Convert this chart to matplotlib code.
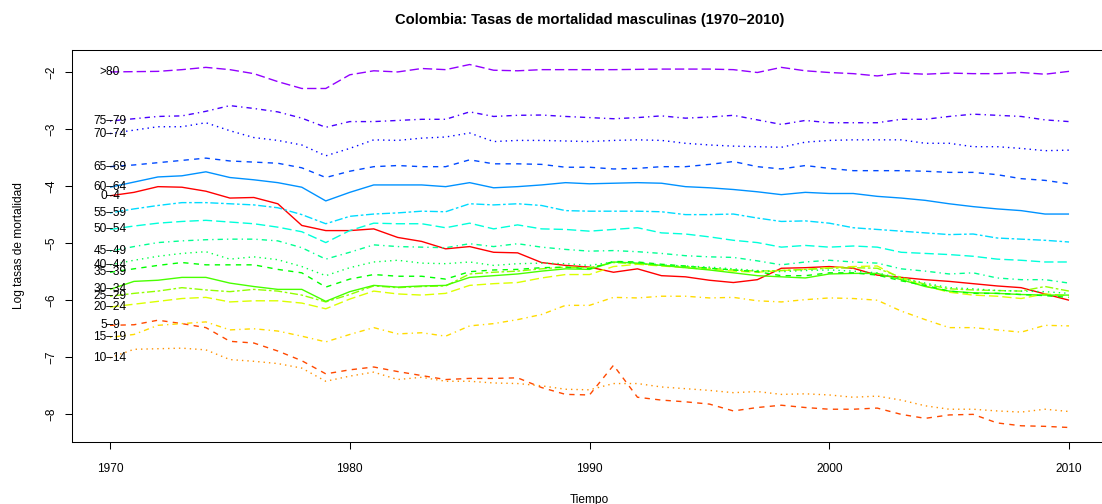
import colorsys

import matplotlib
matplotlib.use("Agg")
import matplotlib.pyplot as plt
import numpy as np

plt.rcParams["font.family"] = ["Liberation Sans", "DejaVu Sans"]

# --- DATA: log male mortality rates by age group, Colombia 1970-2010 ---
years = list(range(1970, 2011))

age_0_4 = [-4.17, -4.11, -4.01, -4.02, -4.09, -4.21, -4.20, -4.31, -4.69, -4.78,
           -4.78, -4.75, -4.90, -4.97, -5.10, -5.06, -5.16, -5.17, -5.34, -5.39,
           -5.42, -5.51, -5.45, -5.57, -5.59, -5.65, -5.69, -5.64, -5.44, -5.43,
           -5.41, -5.44, -5.56, -5.60, -5.64, -5.67, -5.71, -5.75, -5.78, -5.89,
           -6.00]
age_5_9 = [-6.44, -6.43, -6.35, -6.41, -6.48, -6.72, -6.75, -6.89, -7.06, -7.29,
           -7.22, -7.17, -7.25, -7.32, -7.39, -7.37, -7.37, -7.36, -7.53, -7.65,
           -7.66, -7.14, -7.70, -7.75, -7.78, -7.82, -7.94, -7.88, -7.84, -7.88,
           -7.91, -7.91, -7.89, -8.00, -8.07, -8.01, -8.00, -8.15, -8.20, -8.21,
           -8.23]
age_10_14 = [-7.01, -6.86, -6.85, -6.84, -6.87, -7.04, -7.07, -7.11, -7.19, -7.42,
             -7.33, -7.26, -7.39, -7.35, -7.42, -7.42, -7.45, -7.46, -7.50, -7.56,
             -7.57, -7.46, -7.46, -7.52, -7.55, -7.58, -7.62, -7.60, -7.65, -7.64,
             -7.66, -7.70, -7.68, -7.75, -7.85, -7.91, -7.91, -7.94, -7.96, -7.91,
             -7.95]
age_15_19 = [-6.65, -6.60, -6.44, -6.41, -6.38, -6.52, -6.50, -6.54, -6.63, -6.73,
             -6.60, -6.48, -6.59, -6.57, -6.63, -6.45, -6.41, -6.34, -6.25, -6.09,
             -6.09, -5.95, -5.96, -5.93, -5.93, -5.96, -5.95, -6.01, -6.03, -5.99,
             -5.96, -5.97, -6.00, -6.19, -6.34, -6.48, -6.48, -6.52, -6.56, -6.44,
             -6.45]
age_20_24 = [-6.12, -6.07, -6.02, -5.97, -5.95, -6.03, -6.01, -6.01, -6.05, -6.15,
             -5.98, -5.84, -5.89, -5.91, -5.88, -5.74, -5.71, -5.69, -5.61, -5.55,
             -5.55, -5.41, -5.37, -5.40, -5.43, -5.46, -5.49, -5.51, -5.48, -5.46,
             -5.43, -5.41, -5.40, -5.62, -5.75, -5.86, -5.91, -5.93, -5.97, -5.89,
             -5.92]
age_25_29 = [-5.93, -5.88, -5.84, -5.78, -5.82, -5.85, -5.81, -5.84, -5.91, -6.03,
             -5.90, -5.75, -5.78, -5.76, -5.75, -5.54, -5.51, -5.49, -5.45, -5.42,
             -5.43, -5.34, -5.36, -5.39, -5.41, -5.44, -5.47, -5.49, -5.48, -5.46,
             -5.44, -5.43, -5.44, -5.60, -5.72, -5.80, -5.82, -5.83, -5.84, -5.76,
             -5.84]
age_30_34 = [-5.81, -5.67, -5.65, -5.60, -5.60, -5.70, -5.76, -5.81, -5.81, -6.02,
             -5.85, -5.74, -5.77, -5.75, -5.74, -5.60, -5.57, -5.54, -5.49, -5.45,
             -5.46, -5.33, -5.35, -5.39, -5.43, -5.47, -5.52, -5.57, -5.59, -5.61,
             -5.54, -5.53, -5.53, -5.64, -5.76, -5.84, -5.87, -5.88, -5.90, -5.91,
             -5.91]
age_35_39 = [-5.51, -5.45, -5.39, -5.34, -5.38, -5.38, -5.38, -5.46, -5.52, -5.77,
             -5.63, -5.55, -5.58, -5.58, -5.63, -5.50, -5.47, -5.46, -5.43, -5.42,
             -5.45, -5.32, -5.33, -5.37, -5.40, -5.44, -5.47, -5.50, -5.57, -5.57,
             -5.52, -5.52, -5.56, -5.66, -5.74, -5.84, -5.88, -5.88, -5.90, -5.92,
             -5.95]
age_40_44 = [-5.38, -5.30, -5.23, -5.18, -5.15, -5.28, -5.24, -5.29, -5.41, -5.57,
             -5.43, -5.33, -5.30, -5.35, -5.36, -5.33, -5.39, -5.36, -5.35, -5.36,
             -5.39, -5.33, -5.34, -5.38, -5.40, -5.42, -5.45, -5.48, -5.50, -5.48,
             -5.47, -5.49, -5.52, -5.62, -5.70, -5.78, -5.80, -5.83, -5.84, -5.85,
             -5.88]
age_45_49 = [-5.14, -5.06, -4.99, -4.96, -4.94, -4.93, -4.93, -4.96, -5.08, -5.28,
             -5.16, -5.03, -5.06, -5.07, -5.08, -5.01, -5.06, -5.01, -5.07, -5.11,
             -5.14, -5.13, -5.15, -5.18, -5.22, -5.24, -5.25, -5.31, -5.38, -5.33,
             -5.30, -5.33, -5.35, -5.45, -5.49, -5.54, -5.52, -5.61, -5.64, -5.64,
             -5.70]
age_50_54 = [-4.76, -4.70, -4.65, -4.62, -4.60, -4.63, -4.66, -4.72, -4.80, -4.99,
             -4.78, -4.65, -4.66, -4.66, -4.73, -4.65, -4.75, -4.68, -4.75, -4.76,
             -4.79, -4.76, -4.73, -4.82, -4.84, -4.89, -4.95, -4.99, -5.07, -5.04,
             -5.07, -5.05, -5.07, -5.16, -5.18, -5.20, -5.23, -5.28, -5.30, -5.33,
             -5.33]
age_55_59 = [-4.47, -4.40, -4.34, -4.29, -4.29, -4.31, -4.33, -4.38, -4.50, -4.66,
             -4.53, -4.49, -4.47, -4.44, -4.45, -4.31, -4.33, -4.31, -4.34, -4.43,
             -4.44, -4.44, -4.44, -4.45, -4.50, -4.50, -4.49, -4.56, -4.62, -4.61,
             -4.65, -4.73, -4.76, -4.79, -4.82, -4.85, -4.84, -4.91, -4.93, -4.95,
             -4.98]
age_60_64 = [-4.02, -3.93, -3.84, -3.82, -3.75, -3.85, -3.89, -3.94, -4.02, -4.26,
             -4.11, -3.98, -3.98, -3.98, -4.01, -3.94, -4.03, -4.01, -3.98, -3.94,
             -3.96, -3.95, -3.94, -3.95, -4.01, -4.03, -4.06, -4.10, -4.15, -4.11,
             -4.13, -4.13, -4.18, -4.21, -4.25, -4.31, -4.36, -4.40, -4.43, -4.49,
             -4.49]
age_65_69 = [-3.66, -3.63, -3.59, -3.55, -3.51, -3.56, -3.58, -3.60, -3.68, -3.85,
             -3.74, -3.66, -3.64, -3.66, -3.66, -3.54, -3.61, -3.61, -3.62, -3.67,
             -3.67, -3.70, -3.69, -3.66, -3.66, -3.62, -3.57, -3.66, -3.70, -3.64,
             -3.69, -3.73, -3.73, -3.73, -3.74, -3.76, -3.76, -3.80, -3.87, -3.90,
             -3.96]
age_70_74 = [-3.08, -3.02, -2.96, -2.96, -2.89, -3.03, -3.15, -3.20, -3.28, -3.47,
             -3.34, -3.19, -3.20, -3.16, -3.14, -3.07, -3.22, -3.20, -3.20, -3.21,
             -3.22, -3.20, -3.19, -3.20, -3.25, -3.28, -3.30, -3.31, -3.32, -3.23,
             -3.20, -3.19, -3.19, -3.19, -3.25, -3.25, -3.31, -3.31, -3.34, -3.38,
             -3.37]
age_75_79 = [-2.86, -2.82, -2.78, -2.77, -2.69, -2.59, -2.64, -2.70, -2.81, -2.97,
             -2.87, -2.87, -2.85, -2.83, -2.83, -2.70, -2.78, -2.76, -2.755, -2.78,
             -2.80, -2.82, -2.80, -2.77, -2.81, -2.79, -2.76, -2.84, -2.92, -2.85,
             -2.89, -2.89, -2.89, -2.83, -2.83, -2.78, -2.74, -2.76, -2.78, -2.84,
             -2.87]
age_80_plus = [-2.00, -1.995, -1.99, -1.96, -1.92, -1.96, -2.03, -2.17, -2.29, -2.29,
               -2.05, -1.98, -2.00, -1.94, -1.96, -1.87, -1.97, -1.98, -1.96, -1.96,
               -1.96, -1.96, -1.955, -1.95, -1.95, -1.95, -1.96, -2.01, -1.92, -1.98,
               -2.01, -2.03, -2.07, -2.02, -2.04, -2.02, -2.03, -2.03, -2.01, -2.04,
               -1.99]

age_labels = ["0–4", "5–9", "10–14", "15–19", "20–24", "25–29", "30–34", "35–39",
              "40–44", "45–49", "50–54", "55–59", "60–64", "65–69", "70–74",
              "75–79", ">80"]
series = [age_0_4, age_5_9, age_10_14, age_15_19, age_20_24, age_25_29, age_30_34,
          age_35_39, age_40_44, age_45_49, age_50_54, age_55_59, age_60_64,
          age_65_69, age_70_74, age_75_79, age_80_plus]

# base-R style line types, cycling solid / dashed / dotted / dotdash / longdash / twodash
LINE_TYPES = [(0, ()), (0, (3.8, 3.8)), (0, (1.0, 2.9)), (0, (1.0, 2.9, 3.8, 2.9)),
              (0, (6.7, 2.9)), (0, (1.9, 1.9, 5.8, 1.9))]

n = len(series)
colors = [colorsys.hsv_to_rgb(i / 21, 1, 1) for i in range(n)]

fig = plt.figure(figsize=(11.02, 5.04), dpi=100)
ax = fig.add_axes([0.0650, 0.1230, 0.9399, 0.7778])

for i, vals in enumerate(series):
    ax.plot(years, vals, color=colors[i], linestyle=LINE_TYPES[i % 6], linewidth=1.0)
    ax.text(years[0], vals[0], age_labels[i], ha="center", va="center",
            fontsize=8.6, color="black")

# 4% padding on both axes, like R's default
all_vals = np.concatenate([np.asarray(s) for s in series])
ymin, ymax = all_vals.min(), all_vals.max()
yr = ymax - ymin
ax.set_ylim(ymin - 0.04 * yr, ymax + 0.04 * yr)
xr = years[-1] - years[0]
ax.set_xlim(years[0] - 0.04 * xr, years[-1] + 0.04 * xr)

ax.set_xticks([1970, 1980, 1990, 2000, 2010])
ax.set_yticks([-8, -7, -6, -5, -4, -3, -2])
ax.tick_params(axis="both", direction="out", length=5.2, width=0.75, labelsize=8.6)
ax.tick_params(axis="x", pad=10)
ax.tick_params(axis="y", pad=5, labelrotation=90)
for lbl in ax.get_yticklabels():
    lbl.set_va("center")

for spine in ax.spines.values():
    spine.set_linewidth(0.75)
    spine.set_color("black")

ax.set_title("Colombia: Tasas de mortalidad masculinas (1970–2010)",
             fontsize=10.6, fontweight="bold", pad=19)
ax.set_xlabel("Tiempo", fontsize=8.6, labelpad=13.3)
ax.set_ylabel("Log tasas de mortalidad", fontsize=8.6, labelpad=15)

fig.savefig("out.png", dpi=100)
